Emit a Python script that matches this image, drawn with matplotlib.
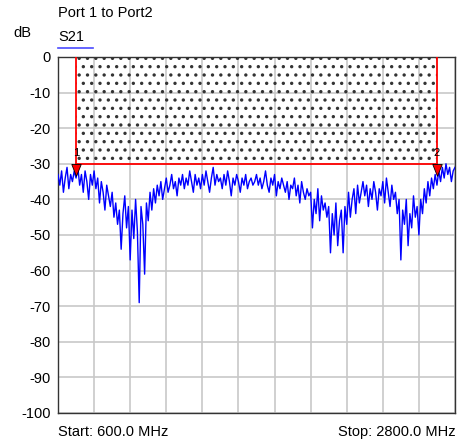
import matplotlib.pyplot as plt
import numpy as np

plt.rcParams['font.family'] = ['Liberation Sans', 'DejaVu Sans']
plt.rcParams['axes.unicode_minus'] = False
plt.rcParams['hatch.linewidth'] = 1.2

# sweep: 600 .. 2800 MHz, 10 MHz step
start_mhz = 600.0
stop_mhz = 2800.0
s21_db = [
    -33, -36, -32, -38, -34, -31, -37, -33, -35, -32,
    -34, -31, -36, -33, -38, -32, -35, -40, -33, -36,
    -32, -37, -34, -41, -35, -38, -43, -36, -39, -42,
    -38, -45, -41, -47, -43, -54, -44, -39, -48, -42,
    -57, -43, -51, -40, -49, -69, -42, -47, -61, -41,
    -46, -38, -43, -37, -41, -36, -39, -35, -40, -37,
    -34, -38, -36, -33, -37, -35, -39, -34, -36, -33,
    -37, -34, -36, -32, -35, -38, -33, -36, -34, -37,
    -33, -36, -32, -35, -38, -34, -31, -36, -33, -35,
    -34, -37, -33, -36, -32, -35, -39, -34, -36, -33,
    -35, -38, -34, -36, -33, -37, -35, -34, -36, -35,
    -33, -36, -34, -37, -35, -32, -36, -38, -34, -36,
    -33, -39, -35, -37, -34, -36, -38, -35, -40, -36,
    -37, -34, -39, -36, -41, -35, -38, -40, -37, -39,
    -38, -48, -40, -44, -37, -46, -39, -43, -41, -45,
    -42, -55, -44, -50, -41, -53, -46, -43, -55, -42,
    -47, -38, -45, -40, -37, -44, -36, -41, -38, -35,
    -39, -36, -42, -37, -40, -35, -38, -43, -37, -39,
    -35, -41, -34, -38, -42, -36, -40, -38, -44, -40,
    -57, -43, -47, -40, -53, -44, -48, -39, -45, -42,
    -50, -40, -44, -37, -41, -35, -39, -34, -37, -33,
    -36, -32, -35, -31, -34, -30, -33, -31, -35, -32,
    -31,
]
freq_mhz = np.linspace(start_mhz, stop_mhz, len(s21_db))

marker_freqs = [700, 2700]
marker_names = ['1', '2']
limit_db = -30
y_ticks = list(range(0, -101, -10))
x_grid = list(range(600, 2801, 200))

fig = plt.figure(figsize=(4.58, 4.43), dpi=100)
ax = fig.add_axes([58 / 458, 1 - 413 / 443, 397 / 458, 356 / 443])

ax.set_xlim(start_mhz, stop_mhz)
ax.set_ylim(-100, 0)
ax.set_yticks(y_ticks)
ax.set_xticks(x_grid)
ax.set_xticklabels([])
ax.tick_params(length=0, labelsize=10.5, pad=5)
ax.grid(True, color='#c8c8c8', linewidth=1.2)
ax.set_axisbelow(True)
for sp in ax.spines.values():
    sp.set_color('#333333')
    sp.set_linewidth(1.0)

# limit region (hatched)
ax.fill_between(marker_freqs, [limit_db] * 2, [0] * 2, facecolor='none',
                edgecolor='#333333', hatch='..', linewidth=0, zorder=2)

# trace
ax.plot(freq_mhz, s21_db, color='#0000ff', linewidth=1.0, zorder=3)

# limit line + markers
ax.plot(marker_freqs, [limit_db] * 2, color='#ff0000', linewidth=1.3, zorder=4)
for f, name in zip(marker_freqs, marker_names):
    ax.plot([f, f], [limit_db, 0], color='#ff0000', linewidth=1.3, zorder=4)
    tri = [(-0.4, 0), (0.4, 0), (0, -1), (-0.4, 0)]
    ax.plot([f], [limit_db], marker=tri, markersize=17, color='#ff0000',
            markeredgecolor='black', markeredgewidth=0.6, zorder=5)
    ax.annotate(name, xy=(f, limit_db), xytext=(0, 4),
                textcoords='offset points', ha='center', va='bottom',
                fontsize=8, zorder=5)

# texts
fig.text(58 / 458, 1 - 13 / 443, 'Port 1 to Port2', fontsize=10.5,
         ha='left', va='center')
fig.text(58 / 458, 1 - 37 / 443, 'S21', fontsize=10.5, ha='left', va='center')
fig.add_artist(plt.Line2D([58 / 458, 93 / 458], [1 - 48 / 443] * 2,
                          color='#4a4aff', linewidth=1.2))
fig.text(13 / 458, 1 - 33 / 443, 'dB', fontsize=10.5, ha='left', va='center')
fig.text(58 / 458, 1 - 432 / 443, 'Start: 600.0 MHz', fontsize=10.5,
         ha='left', va='center')
fig.text(456 / 458, 1 - 432 / 443, 'Stop: 2800.0 MHz', fontsize=10.5,
         ha='right', va='center')

fig.savefig('out.png', dpi=100)
